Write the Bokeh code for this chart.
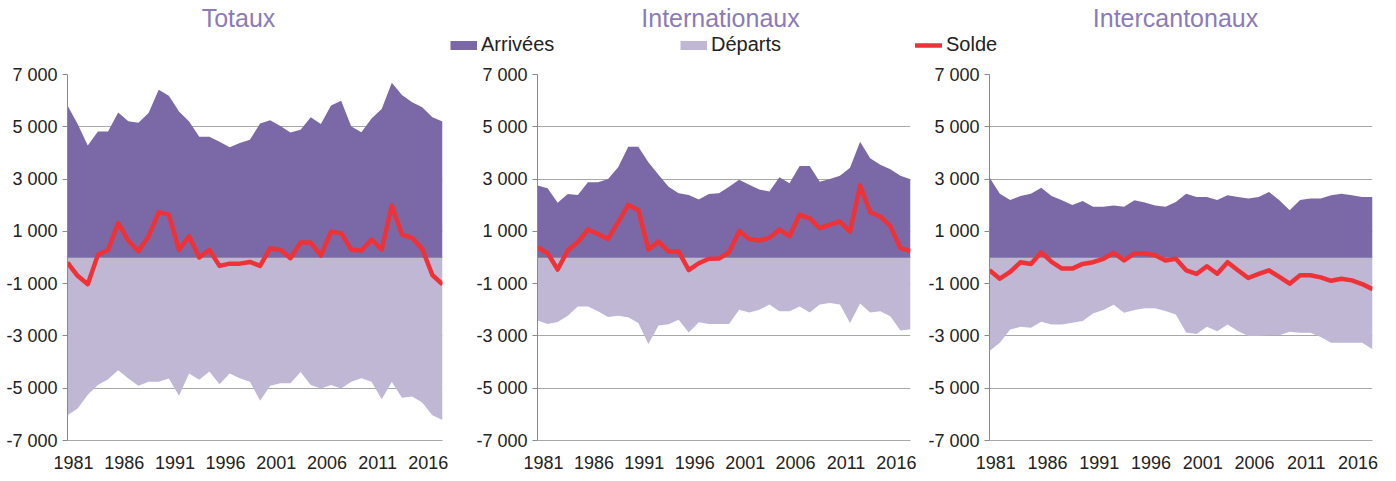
from bokeh.plotting import figure
from bokeh.models import (ColumnDataSource, FixedTicker, Range1d, Label, Legend, LegendItem)
from bokeh.layouts import column, row
from bokeh.embed import file_html
from bokeh.resources import INLINE

years = list(range(1981, 2019))

tot_arr = [5810, 5110, 4280, 4815, 4815, 5550, 5210, 5150, 5530, 6420, 6190, 5580, 5200, 4620, 4620, 4430, 4220, 4380, 4500, 5130,
           5250, 5030, 4780, 4890, 5360, 5110, 5810, 6000, 5010, 4790, 5320, 5680, 6680, 6220, 5940, 5750, 5360, 5200]
tot_dep = [-6030, -5780, -5250, -4880, -4660, -4310, -4630, -4910, -4750, -4750, -4630, -5290, -4440, -4680, -4360, -4850, -4440, -4620, -4750, -5480,
           -4910, -4810, -4810, -4380, -4880, -5010, -4880, -5010, -4750, -4620, -4750, -5420, -4760, -5360, -5320, -5550, -6030, -6220]
tot_solde = [-200, -700, -1020, 100, 290, 1320, 650, 240, 815, 1730, 1640, 290, 815, 0, 290, -320, -235, -235, -170, -320,
             355, 300, -25, 570, 570, 75, 990, 930, 300, 270, 690, 300, 1990, 880, 750, 330, -670, -1030]

int_arr = [2750, 2650, 2090, 2430, 2390, 2880, 2880, 3000, 3450, 4240, 4240, 3640, 3170, 2710, 2460, 2390, 2220, 2430, 2460, 2710,
           2970, 2780, 2600, 2520, 3070, 2840, 3500, 3500, 2900, 3000, 3130, 3430, 4430, 3800, 3550, 3380, 3130, 2990]
int_dep = [-2410, -2540, -2470, -2230, -1870, -1870, -2060, -2280, -2230, -2290, -2510, -3310, -2600, -2550, -2380, -2870, -2480, -2540, -2540, -2540,
           -2000, -2100, -2000, -1800, -2060, -2060, -1870, -2100, -1800, -1740, -1800, -2510, -1760, -2100, -2060, -2250, -2790, -2740]
int_solde = [390, 165, -460, 270, 590, 1070, 900, 710, 1350, 2010, 1820, 305, 610, 230, 230, -480, -220, -50, -40, 200,
             1010, 710, 650, 750, 1070, 815, 1640, 1500, 1120, 1260, 1380, 990, 2750, 1730, 1570, 1200, 360, 240]

ic_arr = [3060, 2440, 2200, 2350, 2440, 2670, 2350, 2190, 2010, 2160, 1940, 1940, 1990, 1940, 2190, 2100, 1990, 1940, 2120, 2440,
          2310, 2310, 2200, 2380, 2310, 2260, 2310, 2510, 2190, 1810, 2200, 2260, 2260, 2380, 2440, 2380, 2310, 2310]
ic_dep = [-3580, -3260, -2750, -2650, -2690, -2460, -2560, -2560, -2500, -2430, -2140, -2010, -1810, -2110, -2010, -1940, -1940, -2050, -2180, -2870,
          -2930, -2650, -2820, -2560, -2810, -3000, -3000, -2970, -2970, -2840, -2880, -2880, -3040, -3260, -3260, -3260, -3260, -3510]
ic_solde = [-490, -810, -550, -180, -245, 200, -170, -425, -425, -245, -180, -50, 180, -115, 155, 155, 90, -115, -50, -490,
            -630, -335, -620, -180, -490, -785, -630, -490, -745, -1000, -680, -680, -760, -890, -810, -875, -1015, -1210]

titles = ["Totaux", "Internationaux", "Intercantonaux"]
legend_labels = ["Arrivées", "Départs", "Solde"]
x_tick_years = list(range(1981, 2017, 5))
y_ticks = [-7000, -5000, -3000, -1000, 1000, 3000, 5000, 7000]

FONT = "Liberation Sans"
C_ARR = "#7B68A6"
C_DEP = "#BFB7D4"
C_SOL = "#EE3237"
C_TITLE = "#8C7BB7"
C_TXT = "#222222"
C_GRID = "#A8A8A8"
C_AXIS = "#8A8A8A"

LABEL_SHIFT = 0.6
HEAD_H = 56


def fmt(v):
    return f"{v:,}".replace(",", " ")


def panel(arr, dep, solde, width, left, right):
    src = ColumnDataSource(dict(year=years, arr=arr, dep=dep, solde=solde, zero=[0] * len(years)))
    p = figure(width=width, height=481 - HEAD_H, output_backend="svg", toolbar_location=None,
               x_range=Range1d(years[0], years[-1]), y_range=Range1d(-7000, 7000),
               min_border_left=left, min_border_right=right, min_border_top=18, min_border_bottom=41)
    p.outline_line_color = None
    p.background_fill_color = "white"
    p.varea(x="year", y1="zero", y2="arr", source=src, fill_color=C_ARR)
    p.varea(x="year", y1="dep", y2="zero", source=src, fill_color=C_DEP)
    p.hspan(y=[0], line_color=C_AXIS, line_width=1.2)
    p.line(x="year", y="solde", source=src, line_color=C_SOL, line_width=4.5, line_join="round")

    p.xgrid.visible = False
    p.ygrid.ticker = FixedTicker(ticks=y_ticks)
    p.ygrid.grid_line_color = C_GRID
    p.ygrid.grid_line_width = 1.2

    p.yaxis.ticker = FixedTicker(ticks=y_ticks)
    p.yaxis.major_label_overrides = {t: fmt(t) for t in y_ticks}
    p.yaxis.axis_line_color = C_AXIS
    p.yaxis.major_tick_line_color = C_AXIS
    p.yaxis.major_tick_out = 5
    p.yaxis.major_tick_in = 0
    p.yaxis.minor_tick_line_color = None
    p.yaxis.major_label_standoff = 5

    xt = [y + LABEL_SHIFT for y in x_tick_years]
    p.xaxis.ticker = FixedTicker(ticks=xt)
    p.xaxis.major_label_overrides = {t: str(y) for t, y in zip(xt, x_tick_years)}
    p.xaxis.axis_line_color = C_GRID
    p.xaxis.major_tick_line_color = None
    p.xaxis.minor_tick_line_color = None
    p.xaxis.major_tick_out = 0
    p.xaxis.major_label_standoff = 15

    for ax in (p.xaxis, p.yaxis):
        ax.major_label_text_font = FONT
        ax.major_label_text_font_size = "18px"
        ax.major_label_text_color = C_TXT
    return p


p1 = panel(tot_arr, tot_dep, tot_solde, 455, 67, 13)
p2 = panel(int_arr, int_dep, int_solde, 470, 82, 15)
p3 = panel(ic_arr, ic_dep, ic_solde, 471, 63, 24)

# header with titles and legend
head = figure(width=1396, height=HEAD_H, output_backend="svg", toolbar_location=None,
              x_range=Range1d(0, 1396), y_range=Range1d(0, HEAD_H),
              min_border=0, min_border_left=0, min_border_right=0, min_border_top=0, min_border_bottom=0)
head.axis.visible = False
head.grid.visible = False
head.outline_line_color = None

for t, cx in zip(titles, [238, 720, 1175]):
    head.add_layout(Label(x=cx, y=HEAD_H - 17, text=t, text_align="center", text_baseline="middle",
                          text_font=FONT, text_font_size="25px", text_color=C_TITLE))

nan = float("nan")
r_arr = head.line(x=[nan], y=[nan], line_color=C_ARR, line_width=9, line_cap="butt")
r_dep = head.line(x=[nan], y=[nan], line_color=C_DEP, line_width=9, line_cap="butt")
r_sol = head.line(x=[nan], y=[nan], line_color=C_SOL, line_width=4.5, line_cap="round")

for lab, r, lx in zip(legend_labels, [r_arr, r_dep, r_sol], [450, 680, 915]):
    lg = Legend(items=[LegendItem(label=lab, renderers=[r])], location=(lx, 0),
                orientation="horizontal", padding=0, margin=0, spacing=0,
                glyph_width=27, glyph_height=16, label_standoff=4,
                label_text_font=FONT, label_text_font_size="20px", label_text_color=C_TXT,
                border_line_color=None, background_fill_alpha=0)
    head.add_layout(lg)

layout = column(head, row(p1, p2, p3, spacing=0), spacing=0)
open("out.html", "w").write(file_html(layout, INLINE))
